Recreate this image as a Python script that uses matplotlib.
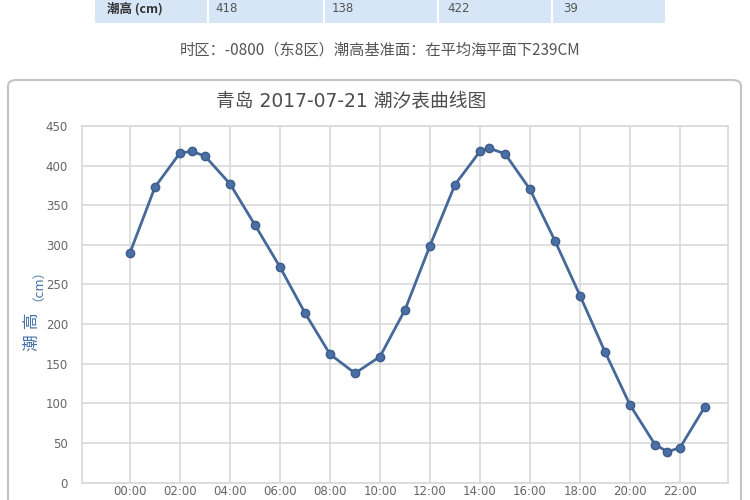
import matplotlib.pyplot as plt
from matplotlib.patches import FancyBboxPatch, Rectangle

plt.rcParams['font.family'] = ['DejaVu Sans', 'Noto Sans CJK SC']

# hourly tide heights plus the high/low tide points (hours after 00:00)
hours = [0, 1, 2, 2.48, 3, 4, 5, 6, 7, 8, 9, 10, 11, 12, 13, 14, 14.36, 15,
         16, 17, 18, 19, 20, 21, 21.5, 22, 23]
heights = [290, 373, 416, 418, 412, 377, 325, 272, 214, 162, 138, 159, 218,
           299, 376, 418, 422, 415, 370, 305, 236, 165, 98, 48, 39, 44, 96]

tick_hours = list(range(0, 24, 2))
tick_labels = ["%02d:00" % h for h in tick_hours]
y_ticks = list(range(0, 451, 50))

# partial table row at the top
table_head = "潮高 (cm)"
table_values = ["418", "138", "422", "39"]

fig = plt.figure(figsize=(7.5, 5), dpi=100)

# table row
fig.patches.append(Rectangle((95 / 750, 1 - 23 / 500), (665 - 95) / 750, 23 / 500,
                             transform=fig.transFigure, facecolor="#d7e6f6",
                             edgecolor="none"))
for xd in [208, 324, 438, 552]:
    fig.lines.append(plt.Line2D([xd / 750, xd / 750], [1 - 23 / 500, 1],
                                transform=fig.transFigure, color="white", lw=1.5))
fig.text(107 / 750, 1 - 9 / 500, table_head, fontsize=9, fontweight="bold",
         color="#333333", va="center", family=["Noto Sans CJK SC", "DejaVu Sans"])
for xv, val in zip([215, 332, 447, 563], table_values):
    fig.text(xv / 750, 1 - 9 / 500, val, fontsize=8.5, color="#555555", va="center")

fig.text(380 / 750, 1 - 50 / 500, "时区：-0800（东8区）潮高基准面：在平均海平面下239CM",
         fontsize=11, color="#555555", ha="center", va="center",
         family=["Noto Sans CJK SC", "DejaVu Sans"])

# outer chart box
fig.patches.append(FancyBboxPatch((8 / 750, -0.05), (741 - 8) / 750, (0.05 + 1 - 80 / 500),
                                  boxstyle="round,pad=0,rounding_size=0.012",
                                  transform=fig.transFigure, facecolor="none",
                                  edgecolor="#c4c4c4", lw=1.5))

fig.text(351 / 750, 1 - 101 / 500, "青岛 2017-07-21 潮汐表曲线图", fontsize=13.5,
         color="#4d4d4d", ha="center", va="center")

ax = fig.add_axes([82 / 750, 17.4 / 500, (728 - 82) / 750, (482.6 - 126) / 500])
ax.plot(hours, heights, color="#46699a", lw=2, marker="o", ms=6,
        markerfacecolor="#4a6fa5", markeredgecolor="#3d5c8c")
ax.set_xlim(-1.92, 23.92)
ax.set_ylim(0, 450)
ax.set_xticks(tick_hours)
ax.set_xticklabels(tick_labels)
ax.set_yticks(y_ticks)
ax.grid(True, color="#d9d9d9", lw=1.2)
ax.set_axisbelow(True)
for s in ax.spines.values():
    s.set_color("#d9d9d9")
    s.set_linewidth(1.2)
ax.tick_params(length=0, labelsize=8.5, colors="#666666")
ax.tick_params(axis="x", pad=2)
ax.tick_params(axis="y", pad=10)

fig.text(32 / 750, 1 - 332 / 500, "潮 高", fontsize=12, color="#4572a7",
         rotation=90, ha="center", va="center")
fig.text(32 / 750, 1 - 279 / 500, "（cm）", fontsize=9, color="#4572a7",
         rotation=90, ha="center", va="center")

fig.savefig("out.png", dpi=100)
